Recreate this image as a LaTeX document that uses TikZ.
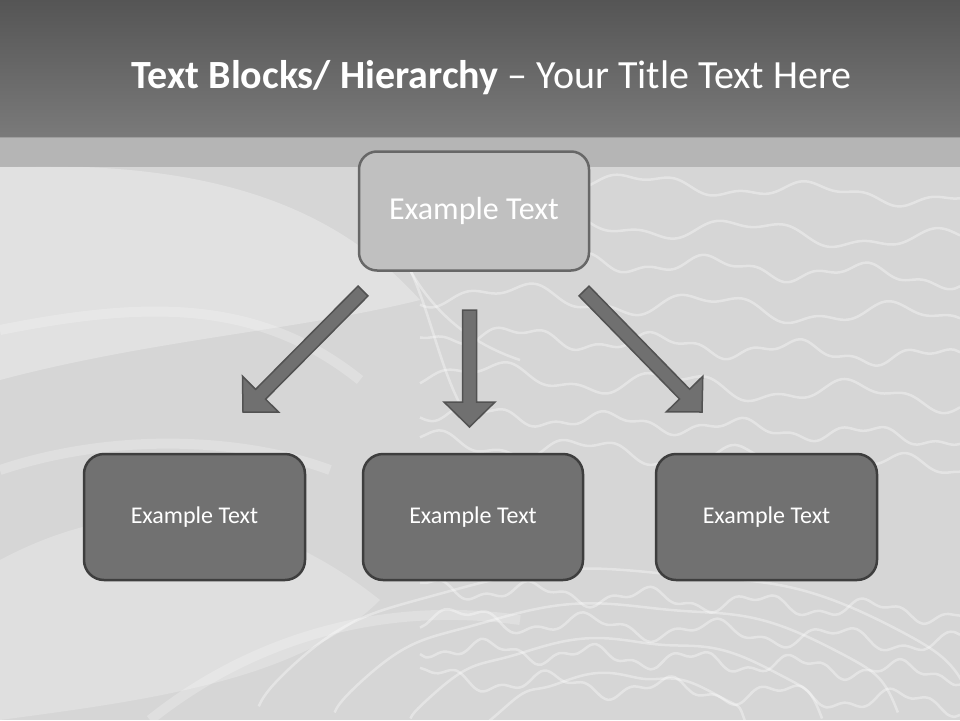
\documentclass[tikz,border=0pt]{standalone}
\usepackage{fontspec}
\setmainfont{Carlito}
\usetikzlibrary{calc}
\definecolor{bgbase}{HTML}{D6D6D6}
\definecolor{bartop}{HTML}{555555}
\definecolor{barbot}{HTML}{7A7A7A}
\definecolor{band}{HTML}{ABABAB}
\definecolor{topfill}{HTML}{C0C0C0}
\definecolor{topline}{HTML}{676767}
\definecolor{botfill}{HTML}{717171}
\definecolor{botline}{HTML}{3E3E3E}
\definecolor{arrfill}{HTML}{707070}
\definecolor{arrline}{HTML}{525252}
\tikzset{
  topbox/.style={draw=topline, fill=topfill, line width=2.5pt, rounded corners=18pt,
    minimum width=230pt, minimum height=119pt, inner sep=0pt, text=white,
    font=\fontsize{32}{38}\selectfont},
  botbox/.style={draw=botline, fill=botfill, line width=2.5pt, rounded corners=20pt,
    minimum width=221pt, minimum height=126pt, inner sep=0pt, text=white,
    font=\fontsize{24}{29}\selectfont},
  blockarrow/.style={fill=arrfill, draw=arrline, line width=1.5pt, line join=miter},
  wave/.style={draw=white, line width=2.5pt, opacity=0.35},
  softwave/.style={draw=white, line width=10pt, opacity=0.22}
}
\newcommand{\blockarr}[2]{%
  \coordinate (#1h) at ($(#2)!25pt!(#1)$);
  \path[blockarrow] ($(#1)!7pt!90:(#2)$) -- ($(#1h)!7pt!-90:(#1)$) --
    ($(#1h)!25.5pt!-90:(#1)$) -- (#2) -- ($(#1h)!25.5pt!90:(#1)$) --
    ($(#1h)!7pt!90:(#1)$) -- ($(#1)!7pt!-90:(#2)$) -- cycle;}
\begin{document}
\begin{tikzpicture}[x=1pt, y=-1pt]
\useasboundingbox (0,0) rectangle (960,720);
% background
\fill[bgbase] (0,0) rectangle (960,720);
\fill[white, opacity=0.28] (0,167) .. controls (200,160) and (330,200) .. (420,300)
  .. controls (300,330) and (150,340) .. (0,380) -- cycle;
\fill[white, opacity=0.22] (0,560) .. controls (150,480) and (280,520) .. (380,600)
  .. controls (300,680) and (150,700) .. (0,720) -- cycle;
\draw[softwave] (0,330) .. controls (150,300) and (260,300) .. (360,380);
\draw[softwave] (0,470) .. controls (120,430) and (250,440) .. (330,470);
\draw[softwave] (150,720) .. controls (250,640) and (380,600) .. (520,620);
\foreach \y/\a/\f in {185/7/2.1, 228/9/1.8, 265/8/2.4, 305/10/1.9, 345/8/2.6,
  385/10/2.0, 425/7/2.8, 455/9/2.3, 600/8/3.2, 630/9/2.9, 660/8/3.5, 690/9/3.1} {
  \draw[wave] plot[domain=420:960, samples=90, smooth]
    (\x, {\y + \a*sin(\f*\x) + 0.5*\a*sin(2.7*\f*\x+40) + 0.05*(\x-680)});
}
\draw[wave] (400,250) .. controls (430,300) and (440,380) .. (470,420);
\draw[wave] (380,200) .. controls (400,260) and (430,330) .. (520,360);
\foreach \r in {60,95,130,165} {
  \draw[wave] plot[domain=190:350, samples=60, smooth]
    ({620 + \r*2.2*cos(\x) + 4*sin(7*\x)}, {735 + \r*sin(\x) + 3*cos(9*\x)});
}
% title bar
\shade[top color=bartop, bottom color=barbot] (0,0) rectangle (960,137);
\fill[band, opacity=0.75] (0,137) rectangle (960,167);
\node[text=white, font=\fontsize{40}{48}\selectfont, anchor=base] (title) at (491.5,88)
  {\textbf{Text Blocks/ Hierarchy} – Your Title Text Here};
% boxes
\node[topbox] (top) at (474,211) {Example Text};
\node[botbox] (left) at (194.5,517) {Example Text};
\node[botbox, minimum width=220pt] (mid) at (473,517) {Example Text};
\node[botbox] (right) at (766.5,517) {Example Text};
% arrows
\coordinate (als) at (363,291);
\coordinate (alt) at (243,412);
\coordinate (ams) at (469.5,310);
\coordinate (amt) at (469.5,427);
\coordinate (ars) at (584,291);
\coordinate (art) at (702,412);
\blockarr{als}{alt}
\blockarr{ams}{amt}
\blockarr{ars}{art}
\end{tikzpicture}
\end{document}
